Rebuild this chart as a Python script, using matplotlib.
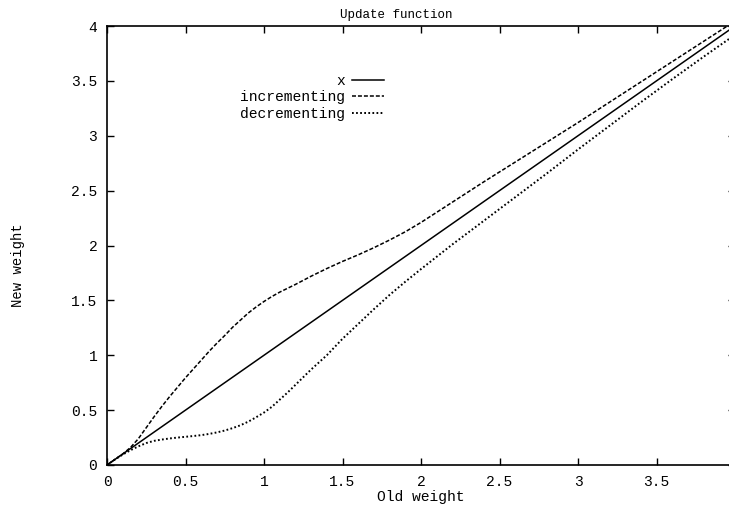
import numpy as np
import matplotlib
matplotlib.use("Agg")
import matplotlib.pyplot as plt

# Valeurs
old_weight = [0, 0.05, 0.1, 0.15, 0.2, 0.25, 0.3, 0.35, 0.4, 0.45, 0.5, 0.55, 0.6,
              0.65, 0.7, 0.75, 0.8, 0.85, 0.9, 0.95, 1.0, 1.05, 1.1, 1.15, 1.2,
              1.3, 1.4, 1.5, 1.6, 1.7, 1.8, 1.9, 2.0, 2.2, 2.4, 2.6, 2.8, 3.0,
              3.2, 3.4, 3.6, 3.8, 4.0]
incrementing = [0, 0.05, 0.10, 0.16, 0.24, 0.34, 0.44, 0.535, 0.625, 0.71, 0.795,
                0.875, 0.955, 1.035, 1.11, 1.18, 1.255, 1.32, 1.385, 1.44, 1.49,
                1.535, 1.575, 1.61, 1.645, 1.72, 1.79, 1.855, 1.915, 1.98, 2.05,
                2.125, 2.21, 2.395, 2.58, 2.76, 2.94, 3.12, 3.305, 3.49, 3.675,
                3.86, 4.045]
decrementing = [0, 0.05, 0.095, 0.135, 0.17, 0.20, 0.22, 0.232, 0.242, 0.25, 0.257,
                0.264, 0.272, 0.283, 0.297, 0.314, 0.336, 0.362, 0.395, 0.435,
                0.478, 0.53, 0.595, 0.66, 0.73, 0.87, 1.00, 1.15, 1.285, 1.42,
                1.55, 1.67, 1.785, 2.01, 2.225, 2.44, 2.655, 2.875, 3.09, 3.305,
                3.515, 3.72, 3.92]
identity = [0, 4]

x_ticks = [0, 0.5, 1, 1.5, 2, 2.5, 3, 3.5]
x_labels = ["0", "0.5", "1", "1.5", "2", "2.5", "3", "3.5"]
y_ticks = [0, 0.5, 1, 1.5, 2, 2.5, 3, 3.5, 4]
y_labels = ["0", "0.5", "1", "1.5", "2", "2.5", "3", "3.5", "4"]

plt.rcParams["font.family"] = ["Liberation Mono", "DejaVu Sans Mono"]
plt.rcParams["font.size"] = 10.5

fig = plt.figure(figsize=(7.29, 5.07), dpi=100)
ax = fig.add_axes([107 / 729, 42 / 507, 628 / 729, 439 / 507])

ax.plot(identity, identity, color="black", lw=1.1, label="x")
ax.plot(old_weight, incrementing, color="black", lw=1.1,
        linestyle=(0, (2.6, 1.3)), label="incrementing")
ax.plot(old_weight, decrementing, color="black", lw=1.4,
        linestyle=(0, (0.9, 1.2)), label="decrementing")

ax.set_xlim(0, 4)
ax.set_ylim(0, 4)
ax.set_xticks(x_ticks)
ax.set_xticklabels(x_labels)
ax.set_yticks(y_ticks)
ax.set_yticklabels(y_labels)
ax.tick_params(direction="in", length=5, width=1.0, top=True, right=True, pad=7)
for s in ax.spines.values():
    s.set_linewidth(1.2)

ax.set_title("Update function", fontsize=9, pad=6, x=0.46)
ax.set_xlabel("Old weight")
ax.xaxis.set_label_coords(0.5, -0.058)
fig.text(18 / 729, 1 - 265 / 507, "New weight", rotation=90,
         ha="center", va="center", fontsize=10)

ax.legend(loc="upper right", bbox_to_anchor=(384 / 729, 1 - 74 / 507),
          bbox_transform=fig.transFigure, frameon=False, markerfirst=False,
          handlelength=2.2, handletextpad=0.45, labelspacing=0.16,
          borderpad=0, borderaxespad=0)

plt.savefig("out.png", dpi=100)
plt.close()
